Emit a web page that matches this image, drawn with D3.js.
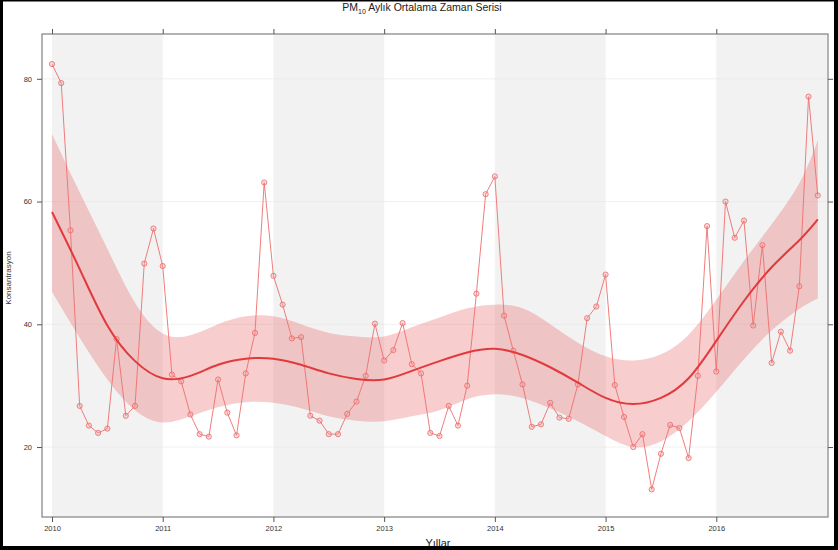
<!DOCTYPE html>
<html>
<head>
<meta charset="utf-8">
<script src="https://cdn.jsdelivr.net/npm/d3@7"></script>
<style>
  body { margin: 0; background: #fff; }
  svg { display: block; font-family: 'Liberation Sans', Arial, sans-serif; }
</style>
</head>
<body>
<div class="chart"></div>
<script>
// Monthly PM10 means, Jan 2010 .. Dec 2016
const startYear = 2010;
const years = [2010, 2011, 2012, 2013, 2014, 2015, 2016];
const yTicks = [20, 40, 60, 80];
const pm10 = [
  82.4, 79.3, 55.3, 26.7, 23.5, 22.3, 23.0, 37.6, 25.1, 26.7, 49.9, 55.6,
  49.5, 31.8, 30.7, 25.3, 22.1, 21.7, 31.0, 25.6, 21.9, 32.0, 38.6, 63.1,
  47.9, 43.2, 37.7, 37.9, 25.1, 24.3, 22.1, 22.1, 25.4, 27.4, 31.6, 40.1,
  34.1, 35.8, 40.2, 33.5, 32.0, 22.3, 21.8, 26.7, 23.5, 30.0, 45.0, 61.2,
  64.1, 41.4, 35.7, 30.2, 23.3, 23.7, 27.2, 24.8, 24.6, 30.2, 41.0, 42.9,
  48.1, 30.1, 24.9, 20.0, 22.1, 13.1, 18.9, 23.6, 23.1, 18.2, 31.6, 56.0,
  32.3, 60.0, 54.1, 56.9, 39.8, 52.9, 33.7, 38.8, 35.7, 46.2, 77.1, 61.0
];

// Smoother (loess): time, fit, lower and upper bound
const smoothT = [2010, 2010.25, 2010.5, 2010.75, 2011, 2011.25, 2011.5, 2011.75,
  2012, 2012.25, 2012.5, 2012.75, 2013, 2013.25, 2013.5, 2013.75,
  2014, 2014.25, 2014.5, 2014.75, 2015, 2015.25, 2015.5, 2015.75,
  2016, 2016.25, 2016.5, 2016.75, 2016.917];
const smoothFit = [58.3, 49.0, 39.8, 34.0, 31.2, 31.6, 33.4, 34.4,
  34.4, 33.4, 32.0, 31.1, 31.0, 32.4, 34.0, 35.4,
  36.0, 35.0, 33.0, 30.5, 28.0, 27.0, 28.0, 31.2,
  37.3, 43.8, 49.3, 53.7, 57.1];
const smoothLo = [45.3, 37.8, 31.0, 26.0, 24.0, 25.0, 26.5, 27.3,
  27.2, 26.3, 25.0, 24.3, 24.2, 25.0, 26.0, 27.8,
  28.6, 28.0, 26.3, 24.2, 21.8, 20.0, 20.9, 24.2,
  29.0, 34.3, 39.0, 42.5, 44.2];
const smoothHi = [71.0, 61.5, 52.3, 43.5, 38.5, 38.2, 40.0, 41.3,
  41.3, 40.0, 38.6, 38.0, 38.0, 39.5, 41.1, 42.6,
  43.2, 42.6, 40.0, 37.0, 34.8, 34.1, 35.1, 38.3,
  44.0, 50.3, 56.3, 63.0, 70.0];

const width = 838, height = 550;
const panel = { left: 42, right: 828, top: 34, bottom: 517 };

const svg = d3.select('.chart').append('svg')
    .attr('width', width)
    .attr('height', height);

const x = d3.scaleLinear().domain([2010, 2017]).range([52, 827]);
const y = d3.scaleLinear().domain([8.6, 87.3]).range([panel.bottom, panel.top]);

const data = pm10.map((v, i) => ({ t: startYear + i / 12, v }));
const smooth = smoothT.map((t, i) => ({ t, fit: smoothFit[i], lo: smoothLo[i], hi: smoothHi[i] }));

// alternating year bands
svg.append('g').selectAll('rect')
    .data(years.filter((d, i) => i % 2 === 0))
    .join('rect')
    .attr('x', d => x(d))
    .attr('y', panel.top)
    .attr('width', d => Math.min(x(d + 1), panel.right) - x(d))
    .attr('height', panel.bottom - panel.top)
    .attr('fill', '#f2f2f2');

// faint horizontal grid
svg.append('g').selectAll('line')
    .data(yTicks)
    .join('line')
    .attr('x1', panel.left).attr('x2', panel.right)
    .attr('y1', d => y(d)).attr('y2', d => y(d))
    .attr('stroke', '#e6e6e6')
    .attr('stroke-opacity', 0.6)
    .attr('stroke-width', 1);

// confidence band
const area = d3.area()
    .x(d => x(d.t))
    .y0(d => y(d.lo))
    .y1(d => y(d.hi))
    .curve(d3.curveNatural);
svg.append('path')
    .datum(smooth)
    .attr('d', area)
    .attr('fill', '#e85a5a')
    .attr('fill-opacity', 0.3);

// observed series
const line = d3.line().x(d => x(d.t)).y(d => y(d.v));
svg.append('path')
    .datum(data)
    .attr('d', line)
    .attr('fill', 'none')
    .attr('stroke', '#ee6e6e')
    .attr('stroke-width', 0.9);

svg.append('g').selectAll('circle')
    .data(data)
    .join('circle')
    .attr('cx', d => x(d.t))
    .attr('cy', d => y(d.v))
    .attr('r', 2.6)
    .attr('fill', '#f4a0a0')
    .attr('fill-opacity', 0.35)
    .attr('stroke', '#ea6a6a')
    .attr('stroke-width', 0.8);

// fitted curve
const fitLine = d3.line().x(d => x(d.t)).y(d => y(d.fit)).curve(d3.curveNatural);
svg.append('path')
    .datum(smooth)
    .attr('d', fitLine)
    .attr('fill', 'none')
    .attr('stroke', '#e2393c')
    .attr('stroke-width', 2);

// panel frame
svg.append('rect')
    .attr('x', panel.left).attr('y', panel.top)
    .attr('width', panel.right - panel.left)
    .attr('height', panel.bottom - panel.top)
    .attr('fill', 'none')
    .attr('stroke', '#8a8a8a')
    .attr('stroke-width', 1.3);

// axes on all four sides
const styleAxis = g => {
    g.select('.domain').remove();
    g.selectAll('.tick line').attr('stroke', '#555');
    g.selectAll('.tick text').attr('fill', '#333').style('font-size', '7.5px');
};
svg.append('g').attr('transform', `translate(0,${panel.bottom})`)
    .call(d3.axisBottom(x).tickValues(years).tickFormat(d3.format('d')).tickSize(5).tickPadding(4))
    .call(styleAxis);
svg.append('g').attr('transform', `translate(0,${panel.top})`)
    .call(d3.axisTop(x).tickValues(years).tickFormat('').tickSize(5))
    .call(styleAxis);
svg.append('g').attr('transform', `translate(${panel.left},0)`)
    .call(d3.axisLeft(y).tickValues(yTicks).tickSize(5).tickPadding(5))
    .call(styleAxis);
svg.append('g').attr('transform', `translate(${panel.right},0)`)
    .call(d3.axisRight(y).tickValues(yTicks).tickFormat('').tickSize(5))
    .call(styleAxis);

// title and axis labels
const title = svg.append('text')
    .attr('x', 422).attr('y', 11)
    .attr('text-anchor', 'middle')
    .style('font-size', '10.5px')
    .attr('fill', '#222');
title.append('tspan').text('PM');
title.append('tspan').attr('dy', 2.5).style('font-size', '7px').text('10');
title.append('tspan').attr('dy', -2.5).text(' Aylık Ortalama Zaman Serisi');

svg.append('text')
    .attr('x', 438).attr('y', 547)
    .attr('text-anchor', 'middle')
    .style('font-size', '11px')
    .attr('fill', '#222')
    .text('Yıllar');

svg.append('text')
    .attr('transform', 'rotate(-90)')
    .attr('x', -278).attr('y', 11)
    .attr('text-anchor', 'middle')
    .style('font-size', '8px')
    .attr('fill', '#333')
    .text('Konsantrasyon');

// black outer border of the image
svg.append('rect').attr('x', 0).attr('y', 0).attr('width', 3).attr('height', height).attr('fill', '#000');
svg.append('rect').attr('x', width - 4).attr('y', 0).attr('width', 4).attr('height', height).attr('fill', '#000');
svg.append('rect').attr('x', 0).attr('y', 0).attr('width', width).attr('height', 1.5).attr('fill', '#000');
svg.append('rect').attr('x', 0).attr('y', height - 4).attr('width', width).attr('height', 4).attr('fill', '#000');
</script>
</body>
</html>
